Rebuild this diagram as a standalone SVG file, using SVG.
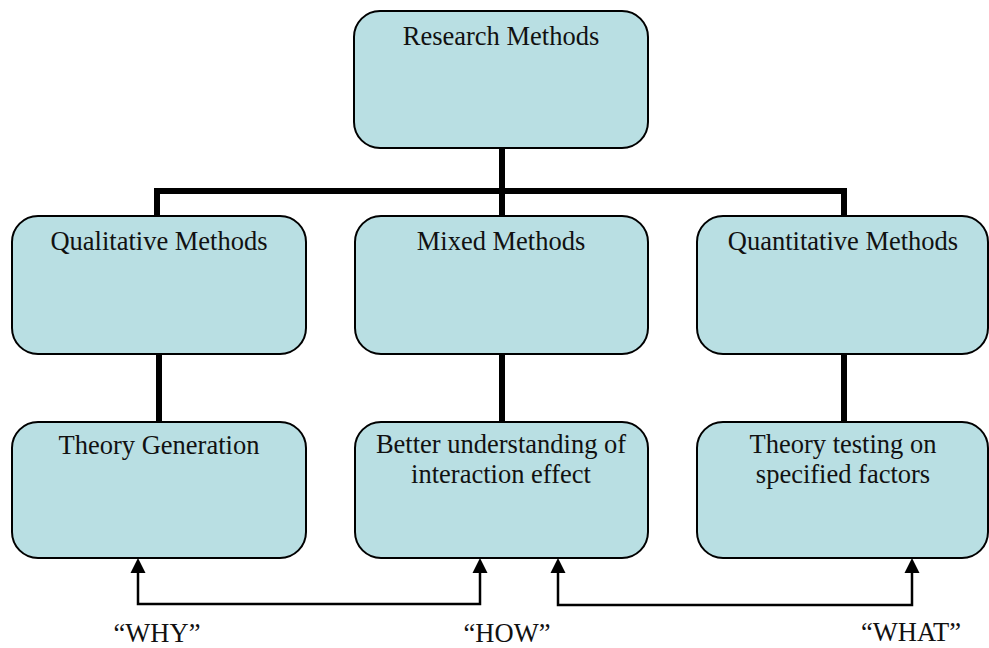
<svg xmlns="http://www.w3.org/2000/svg" width="989" height="648" viewBox="0 0 989 648">
  <style>
    .box { fill: #B9DFE3; stroke: #000; stroke-width: 2; }
    .lbl { font-family: 'Liberation Serif', 'Times New Roman', 'DejaVu Serif', serif; font-size: 26.5px; fill: #111; text-anchor: middle; }
    .tree { fill: none; stroke: #000; stroke-width: 6; }
    .link { fill: none; stroke: #000; stroke-width: 2.5; }
    .head { fill: #000; }
  </style>

  <g id="connectors">
    <!-- hierarchy lines -->
    <path class="tree" d="M502,148 V191 M157,217 V191 H844 V217 M502,191 V217"/>
    <path class="tree" d="M159,354 V422 M502,354 V422 M844,354 V422"/>
    <!-- bottom links with arrowheads at both ends -->
    <path class="link" d="M138,572 V604 H480 V572"/>
    <polygon class="head" points="138,558 145.5,573 130.5,573"/>
    <polygon class="head" points="480,558 487.5,573 472.5,573"/>
    <path class="link" d="M558,572 V605 H912 V572"/>
    <polygon class="head" points="558,558 565.5,573 550.5,573"/>
    <polygon class="head" points="912,558 919.5,573 904.5,573"/>
  </g>

  <g id="research-methods">
    <rect class="box" x="354" y="11" width="294" height="137" rx="26"/>
    <text class="lbl" x="501" y="45">Research Methods</text>
  </g>

  <g id="qualitative-methods">
    <rect class="box" x="12" y="216" width="294" height="138" rx="26"/>
    <text class="lbl" x="159" y="250">Qualitative Methods</text>
  </g>

  <g id="mixed-methods">
    <rect class="box" x="355" y="216" width="293" height="138" rx="26"/>
    <text class="lbl" x="501" y="250">Mixed Methods</text>
  </g>

  <g id="quantitative-methods">
    <rect class="box" x="697" y="216" width="291" height="138" rx="26"/>
    <text class="lbl" x="843" y="250">Quantitative Methods</text>
  </g>

  <g id="theory-generation">
    <rect class="box" x="12" y="422" width="294" height="136" rx="26"/>
    <text class="lbl" x="159" y="454">Theory Generation</text>
  </g>

  <g id="interaction-effect">
    <rect class="box" x="355" y="422" width="293" height="136" rx="26"/>
    <text class="lbl" x="501" y="453">Better understanding of</text>
    <text class="lbl" x="501" y="483">interaction effect</text>
  </g>

  <g id="theory-testing">
    <rect class="box" x="697" y="422" width="291" height="136" rx="26"/>
    <text class="lbl" x="843" y="453">Theory testing on</text>
    <text class="lbl" x="843" y="483">specified factors</text>
  </g>

  <g id="question-labels">
    <text class="lbl" x="157" y="642">“WHY”</text>
    <text class="lbl" x="507" y="642">“HOW”</text>
    <text class="lbl" x="911" y="641">“WHAT”</text>
  </g>
</svg>
